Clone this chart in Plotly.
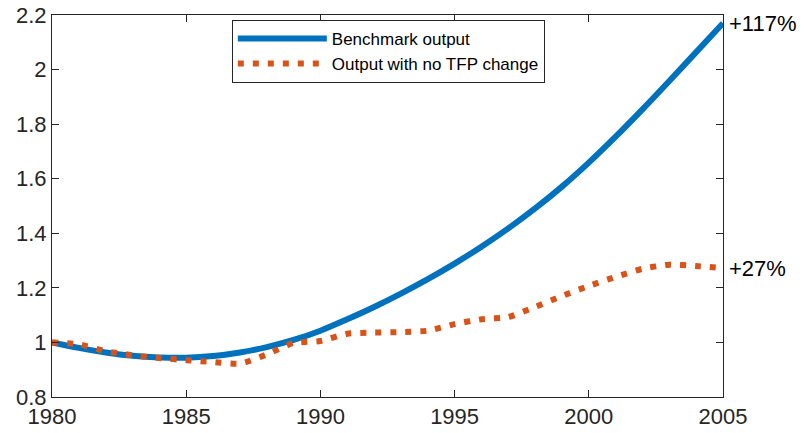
import plotly.graph_objects as go

years = list(range(1980, 2006))
benchmark = [1.000, 0.980, 0.963, 0.951, 0.945, 0.944, 0.950, 0.963, 0.983, 1.009,
             1.043, 1.085, 1.130, 1.179, 1.232, 1.289, 1.351, 1.418, 1.491, 1.571,
             1.659, 1.754, 1.854, 1.958, 2.064, 2.170]
no_tfp = [1.000, 0.993, 0.968, 0.953, 0.943, 0.935, 0.928, 0.922, 0.956, 0.998,
          1.005, 1.032, 1.036, 1.038, 1.043, 1.067, 1.085, 1.093, 1.130, 1.170,
          1.207, 1.240, 1.270, 1.285, 1.280, 1.272]
labels = ["+117%", "+27%"]
xticks = [1980, 1985, 1990, 1995, 2000, 2005]
yticks = [0.8, 1.0, 1.2, 1.4, 1.6, 1.8, 2.0, 2.2]
yticklabels = ["0.8", "1", "1.2", "1.4", "1.6", "1.8", "2", "2.2"]

AX = "#262626"
FONT = "Liberation Sans, Arial, sans-serif"

fig = go.Figure()
fig.add_trace(go.Scatter(x=years, y=benchmark, mode="lines", name="Benchmark output",
                         line=dict(color="#0072BD", width=6, shape="spline")))
fig.add_trace(go.Scatter(x=years, y=no_tfp, mode="lines", name="Output with no TFP change",
                         line=dict(color="#D95319", width=6, dash="6px,9px", shape="spline",
                                   smoothing=0.6)))

for val, lab in zip([benchmark[-1], no_tfp[-1]], labels):
    fig.add_annotation(x=years[-1], y=val, text=lab, showarrow=False, xanchor="left",
                       yanchor="middle", xshift=4, font=dict(size=22, color="black", family=FONT))

axis_common = dict(showline=True, linecolor=AX, linewidth=1, mirror="allticks",
                   ticks="inside", ticklen=7, tickcolor=AX, tickwidth=1,
                   showgrid=False, zeroline=False, automargin=False,
                   tickfont=dict(size=22, color=AX, family=FONT))

fig.update_xaxes(range=[1980, 2005], tickvals=xticks, ticktext=[str(t) for t in xticks],
                 **axis_common)
fig.update_yaxes(range=[0.8, 2.2], tickvals=yticks, ticktext=yticklabels, **axis_common)

fig.update_layout(
    width=808, height=433,
    margin=dict(l=52, r=85, t=15, b=36),
    plot_bgcolor="white", paper_bgcolor="white",
    font=dict(family=FONT, color=AX),
    showlegend=True,
    legend=dict(x=0.268, y=0.987, xanchor="left", yanchor="top",
                bgcolor="white", bordercolor=AX, borderwidth=1,
                font=dict(size=17, color="black", family=FONT),
                tracegroupgap=0, itemwidth=89),
)

fig.write_html("out.html")
